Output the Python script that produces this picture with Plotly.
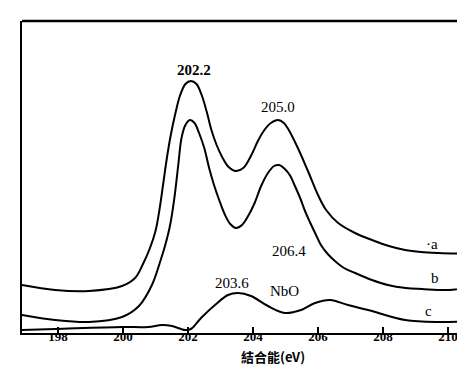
import plotly.graph_objects as go

# Binding energy (eV) and intensity (arbitrary units)
a_x = [196.89, 197.91, 198.95, 199.97, 200.37, 200.60, 200.83, 201.00, 201.13, 201.24, 201.35,
       201.47, 201.60, 201.75, 201.92, 202.09, 202.26, 202.42, 202.57, 202.72, 202.88, 203.05,
       203.25, 203.47, 203.70, 203.95, 204.15, 204.35, 204.55, 204.77, 204.95, 205.10, 205.38,
       205.69, 206.00, 206.25, 206.62, 207.14, 207.66, 208.18, 208.68, 209.17, 209.72, 210.77]
a_y = [48, 43, 42, 47, 55, 68, 85, 102, 125, 150, 175,
       198, 218, 237, 249, 252, 249, 238, 222, 203, 188, 176,
       166, 162, 165, 178, 192, 203, 210, 213, 210, 203, 185,
       162, 138, 123, 110, 100, 93, 87, 83, 81, 80, 79]

b_x = [196.89, 197.91, 198.95, 199.97, 200.49, 200.89, 201.15, 201.30, 201.45, 201.58, 201.70,
       201.80, 201.92, 202.06, 202.20, 202.34, 202.50, 202.65, 202.80, 202.97, 203.14, 203.30,
       203.48, 203.66, 203.85, 204.05, 204.25, 204.46, 204.65, 204.80, 204.98, 205.15, 205.29,
       205.45, 205.60, 205.75, 205.91, 206.09, 206.30, 206.52, 206.80, 207.14, 207.66, 208.15,
       208.70, 209.20, 210.03, 210.77]
b_y = [18, 13, 11, 16, 27, 48, 72, 88, 108, 135, 168,
       195, 208, 213, 210, 200, 185, 165, 148, 132, 118, 109,
       105, 108, 117, 130, 147, 160, 167, 168, 164, 157, 147,
       135, 122, 111, 100, 88, 79, 72, 65, 60, 53, 48,
       45, 44, 43, 46]

c_x = [196.89, 197.91, 199.97, 200.77, 201.20, 201.51, 201.91, 202.09, 202.40, 202.83, 203.23,
       203.54, 203.94, 204.46, 204.98, 205.48, 205.91, 206.37, 206.92, 207.54, 208.68, 209.72,
       210.77]
c_y = [3, 4, 6, 6, 8, 7, 3, 4, 15, 28, 38,
       40, 37, 27, 20, 23, 30, 33, 28, 23, 13, 11,
       12]

tick_vals = [198, 200, 202, 204, 206, 208, 210]
tick_text = ["198", "200", "202", "204", "206", "208", "210"]

fig = go.Figure()
for xs, ys in [(a_x, a_y), (b_x, b_y), (c_x, c_y)]:
    fig.add_trace(go.Scatter(x=xs, y=ys, mode="lines",
                             line=dict(color="black", width=2, shape="spline", smoothing=1.0),
                             showlegend=False, hoverinfo="skip"))

serif = "Liberation Serif"
labels = [
    ("202.2", 202.18, 263, True),
    ("205.0", 204.77, 226, False),
    ("206.4", 205.11, 82, False),
    ("203.6", 203.35, 50, False),
    ("NbO", 204.98, 42, False),
    ("·a", 209.50, 89, False),
    ("b", 209.60, 55, False),
    ("c", 209.41, 22, False),
]
for txt, x, y, bold in labels:
    fig.add_annotation(x=x, y=y, xref="x", yref="y", text=txt, showarrow=False,
                       font=dict(family=serif, size=15, color="black",
                                 weight="bold" if bold else "normal"))

fig.add_annotation(x=204.61, y=-0.112, xref="x", yref="paper",
                   text="結合能(eV)", showarrow=False,
                   font=dict(family="Noto Sans CJK SC", size=13, color="black", weight="bold"))

# top border
fig.add_shape(type="line", xref="paper", yref="paper", x0=0, x1=1, y0=1, y1=1,
              line=dict(color="black", width=2.5))

fig.update_layout(
    width=465, height=369,
    margin=dict(l=14, r=0, t=13, b=44),
    paper_bgcolor="white", plot_bgcolor="white",
    xaxis=dict(range=[196.892, 210.769], tickvals=tick_vals, ticktext=tick_text,
               ticks="inside", ticklen=6, tickwidth=1.5, tickcolor="black",
               ticklabelstandoff=-10,
               showline=True, linecolor="black", linewidth=2, showgrid=False, zeroline=False,
               tickfont=dict(family=serif, size=13, color="black", weight="bold")),
    yaxis=dict(range=[0, 312], showticklabels=False, ticks="", showgrid=False, zeroline=False,
               showline=True, linecolor="black", linewidth=2),
)

fig.write_html("out.html")
